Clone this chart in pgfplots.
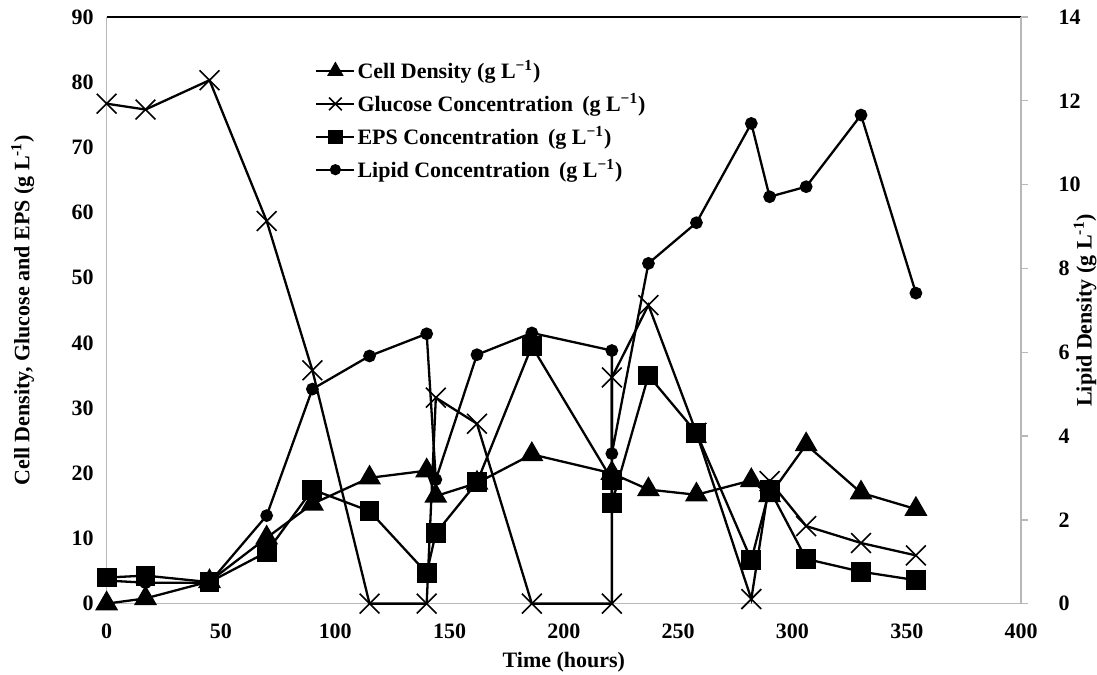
\documentclass[border=0pt]{standalone}
\usepackage{fontspec}
\setmainfont{Liberation Serif}
\usepackage{pgfplots}
\pgfplotsset{compat=1.18}
\usetikzlibrary{calc}

\pgfplotsset{
  base/.style={
    scale only axis, width=457.5pt, height=293.5pt,
    xmin=0, xmax=400, clip=false,
    /pgf/number format/assume math mode=true,
    tick label style={font=\fontsize{11}{13}\selectfont\bfseries},
    label style={font=\fontsize{11}{13}\selectfont\bfseries},
    axis line style={black!28, line width=0.7pt},
  },
  ser/.style={black, line width=1.15pt, mark options={solid, fill=black}},
}

\begin{document}
\begin{tikzpicture}
\begin{axis}[base,
  ymin=0, ymax=90, ytick={0,10,...,90},
  xtick={0,50,...,400},
  axis x line*=bottom, axis y line*=left,
  major tick length=0pt,
  yticklabel style={xshift=-3pt},
  xticklabel style={yshift=-6.5pt},
  xlabel={Time (hours)},
  ylabel={Cell Density, Glucose and EPS (g L\textsuperscript{-1})},
  xlabel style={at={(axis description cs:0.5,-0.1)}, anchor=center},
  ylabel style={at={(axis description cs:-0.0918,0.5)}, anchor=center},
  legend style={draw=none, fill=none, inner sep=0pt,
    at={(axis description cs:0.2277,0.93)}, anchor=north west,
    nodes={inner sep=1pt}, row sep=3.9pt,
    font=\fontsize{11}{13}\selectfont\bfseries},
  legend cell align=left,
  legend image code/.code={\draw[mark repeat=2,mark phase=2,#1]
    plot coordinates {(0pt,0pt)(9.5pt,0pt)(19pt,0pt)};},
]
\coordinate (SW) at (rel axis cs:0,0);
\coordinate (NE) at (rel axis cs:1,1);
\draw[black, line width=0.9pt] (rel axis cs:0,1) -- (rel axis cs:1,1);

% cell density
\addplot[ser, mark=triangle*, mark size=5.5pt,
  legend image post style={mark size=3.6pt}] table {
x y
0 0
17 0.8
45 3.4
70 10.1
90 15.3
115 19.3
140 20.4
144 16.5
162 18.5
186 22.9
221 20.0
237 17.5
258 16.7
282 18.9
290 16.6
306 24.4
330 17.0
354 14.5
};
\addlegendentry{Cell Density (g L\textsuperscript{−1})}

% glucose
\addplot[ser, mark=x, mark size=7pt, mark options={line width=0.8pt},
  legend image post style={mark size=4.5pt}] table {
x y
0 76.7
17 75.8
45 80.3
70 58.7
90 35.8
115 0
140 0
144 31.6
162 27.6
186 0
221 0
221 34.7
237 45.8
258 26.2
282 0.7
290 18.8
306 11.9
330 9.3
354 7.4
};
\addlegendentry{Glucose Concentration\, (g L\textsuperscript{−1})}

% EPS
\addplot[ser, mark=square*, mark size=4.4pt,
  legend image post style={mark size=3pt}] table {
x y
0 4.0
17 4.3
45 3.3
70 7.9
90 17.5
115 14.2
140 4.7
144 10.8
162 18.6
186 39.5
221 19.0
221 15.4
237 35.0
258 26.2
282 6.7
290 17.5
306 6.85
330 4.9
354 3.6
};
\addlegendentry{EPS Concentration\, (g L\textsuperscript{−1})}

\addlegendimage{ser, mark=*, mark size=2.2pt}
\addlegendentry{Lipid Concentration\, (g L\textsuperscript{−1})}
\end{axis}

\begin{axis}[base,
  ymin=0, ymax=14, ytick={0,2,...,14},
  axis x line=none, axis y line*=right,
  tick align=outside, major tick length=3.3pt,
  ytick style={black!28, line width=0.7pt},
  yticklabel style={xshift=12pt},
  ylabel={Lipid Density (g L\textsuperscript{-1})},
  ylabel style={at={(axis description cs:1.07,0.5)}, anchor=center},
]
\addplot[ser, mark=*, mark size=2.6pt] table {
x y
0 0.55
17 0.5
45 0.5
70 2.1
90 5.12
115 5.91
140 6.44
144 2.96
162 5.94
186 6.46
221 6.04
221 3.58
237 8.12
258 9.09
282 11.46
290 9.71
306 9.95
330 11.66
354 7.41
};
\end{axis}
\pgfresetboundingbox
\path[use as bounding box] ($(SW)+(-53.35pt,-35.5pt)$) rectangle ($(NE)+(38pt,8.5pt)$);
\end{tikzpicture}
\end{document}
